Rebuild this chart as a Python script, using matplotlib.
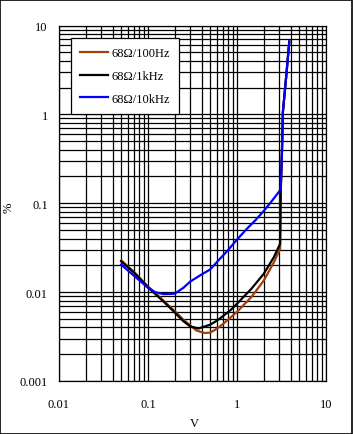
import numpy as np
import matplotlib
matplotlib.use('Agg')
import matplotlib.pyplot as plt
from matplotlib.ticker import LogLocator, FixedLocator, NullFormatter

# ---- DATA ----
v_100hz = [0.05, 0.07, 0.1, 0.15, 0.2, 0.25, 0.3, 0.35, 0.43, 0.5, 0.6, 0.7, 0.85, 1.0,
           1.45, 2.0, 2.6, 3.05, 3.1, 3.2, 3.28, 3.55, 3.87]
thd_100hz = [0.0228, 0.0168, 0.0116, 0.0080, 0.0061, 0.0049, 0.0042, 0.0037, 0.00347, 0.0035,
             0.0039, 0.0044, 0.0052, 0.0060, 0.0088, 0.0135, 0.0217, 0.0306, 0.13, 0.38,
             1.07, 2.5, 6.6]

v_1khz = [0.05, 0.07, 0.1, 0.15, 0.2, 0.25, 0.3, 0.37, 0.5, 0.6, 0.7, 0.85, 1.0,
          1.45, 2.0, 2.6, 3.05, 3.1, 3.2, 3.28, 3.55, 3.87]
thd_1khz = [0.0222, 0.0165, 0.0113, 0.0078, 0.0059, 0.0047, 0.0041, 0.0039, 0.0043, 0.0048,
            0.0054, 0.0063, 0.0074, 0.0109, 0.0161, 0.0248, 0.035, 0.14, 0.38, 1.07, 2.5, 6.6]

v_10khz = [0.05, 0.07, 0.1, 0.12, 0.15, 0.2, 0.25, 0.3, 0.4, 0.5, 0.6, 0.8, 1.0, 1.3,
           1.6, 2.0, 2.5, 3.05, 3.1, 3.2, 3.28, 3.55, 3.87]
thd_10khz = [0.0204, 0.0152, 0.0112, 0.0100, 0.0095, 0.0096, 0.0112, 0.0132, 0.0158, 0.018,
             0.022, 0.030, 0.039, 0.052, 0.064, 0.082, 0.108, 0.14, 0.145, 0.38, 1.07, 2.5, 6.6]

labels = ['68\u03a9/100Hz', '68\u03a9/1kHz', '68\u03a9/10kHz']
colors = ['#A0400A', '#000000', '#0000FF']

x_ticks = [0.01, 0.1, 1, 10]
x_ticklabels = ['0.01', '0.1', '1', '10']
y_ticks = [0.001, 0.01, 0.1, 1, 10]
y_ticklabels = ['0.001', '0.01', '0.1', '1', '10']

# ---- PLOT ----
plt.rcParams['font.family'] = ['Liberation Serif', 'DejaVu Serif']
fs = 9
fig = plt.figure(figsize=(3.53, 4.35), dpi=100)
ax = fig.add_axes([59 / 353, 53 / 435, 267 / 353, 355.5 / 435])

for xs, ys, lab, c in zip([v_100hz, v_1khz, v_10khz], [thd_100hz, thd_1khz, thd_10khz], labels, colors):
    ax.plot(xs, ys, color=c, lw=1.6, label=lab, zorder=3)

ax.set_xscale('log')
ax.set_yscale('log')
ax.set_xlim(0.01, 10)
ax.set_ylim(0.001, 10)

ax.xaxis.set_major_locator(FixedLocator(x_ticks))
ax.set_xticklabels(x_ticklabels)
ax.yaxis.set_major_locator(FixedLocator(y_ticks))
ax.set_yticklabels(y_ticklabels)
ax.xaxis.set_minor_locator(LogLocator(base=10, subs=np.arange(2, 10)))
ax.yaxis.set_minor_locator(LogLocator(base=10, subs=np.arange(2, 10)))
ax.xaxis.set_minor_formatter(NullFormatter())
ax.yaxis.set_minor_formatter(NullFormatter())

ax.tick_params(which='both', length=0, labelsize=fs)
ax.tick_params(axis='x', pad=12)
ax.tick_params(axis='y', pad=8)
ax.grid(True, which='both', color='black', lw=0.9)
for s in ax.spines.values():
    s.set_color('black')
    s.set_linewidth(0.9)

ax.set_xlabel('V', fontsize=fs)
ax.set_ylabel('%', fontsize=fs)
ax.xaxis.set_label_coords(0.507, -0.101)
ax.yaxis.set_label_coords(-0.165, 0.49)

leg = ax.legend(loc='upper left', bbox_to_anchor=(0.045, 0.965), borderaxespad=0, fontsize=fs,
                frameon=True, fancybox=False, framealpha=1, edgecolor='black',
                handlelength=2.2, handletextpad=0.25, labelspacing=0.85, borderpad=0.75)
leg.get_frame().set_linewidth(0.9)
leg.set_zorder(5)

# border around the whole picture
fig.patches.append(plt.Rectangle((0.001, 0.001), 0.997, 0.997, transform=fig.transFigure,
                                 fill=False, edgecolor='black', lw=1.2))

fig.savefig('out.png', dpi=100)
